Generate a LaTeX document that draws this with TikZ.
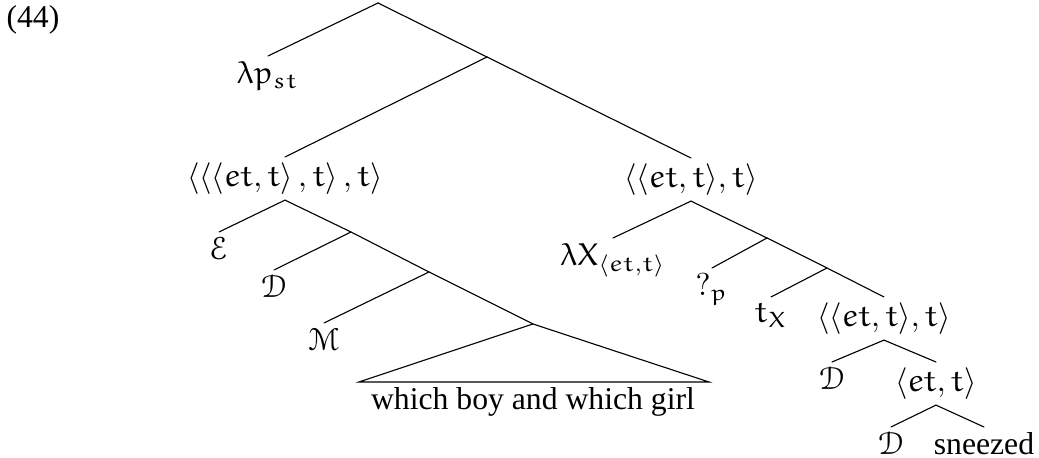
\documentclass[tikz,border=0pt]{standalone}
\usepackage{amsmath}
\usepackage{amsfonts}
\usepackage[mathcal]{euscript}
\usepackage{fontspec}
\setmainfont{Liberation Serif}
\DeclareSymbolFont{eulerletters}{U}{eur}{m}{n}
\DeclareMathSymbol{\elambda}{\mathord}{eulerletters}{"15}
\DeclareMathAlphabet{\mathe}{U}{eur}{m}{n}
\tikzset{
  lbl/.style={inner xsep=0pt, inner ysep=1.6pt, anchor=north},
  branch/.style={line width=0.35pt, line cap=round},
}
\begin{document}
\begin{tikzpicture}[x=0.3155pt, y=-0.3155pt]
\useasboundingbox (0,0) rectangle (1039,458);
% example number
\node[inner sep=0pt] (num) at (33,20) {(44)};
% root
\coordinate (r) at (378,3);
\node[lbl] (lp) at (268,56) {$\elambda\mathe{p}_{\mathe{st}}$};
\coordinate (n1) at (487,57);
\node[lbl] (A) at (285,157) {$\langle\langle\langle\mathe{et},\mathe{t}\rangle\,,\mathe{t}\rangle\,,\mathe{t}\rangle$};
\node[lbl] (B) at (691,158) {$\langle\langle\mathe{et},\mathe{t}\rangle,\mathe{t}\rangle$};
% left subtree
\node[lbl] (E1) at (219,232) {$\mathcal{E}$};
\coordinate (a1) at (351,232);
\node[lbl] (D1) at (274,270) {$\mathcal{D}$};
\coordinate (a2) at (429,272);
\node[lbl] (M1) at (324,323) {$\mathcal{M}$};
\coordinate (tri) at (533,324);
\coordinate (tl) at (359,382);
\coordinate (tr) at (709,382);
\node[inner sep=0pt, anchor=base] (wb) at (533,410) {which boy and which girl};
% right subtree
\node[lbl] (LX) at (613,238) {$\elambda\mathe{X}_{\langle\mathe{et},\mathe{t}\rangle}$};
\coordinate (b1) at (767,238);
\node[lbl] (Q) at (712,268) {$?_{\mathe{p}}$};
\coordinate (b2) at (827,268);
\node[lbl] (TX) at (771,297) {$\mathe{t}_{\mathe{X}}$};
\node[lbl] (C) at (884,297) {$\langle\langle\mathe{et},\mathe{t}\rangle,\mathe{t}\rangle$};
\node[lbl] (D2) at (832,362) {$\mathcal{D}$};
\node[lbl] (Et) at (936,362) {$\langle\mathe{et},\mathe{t}\rangle$};
\node[lbl] (D3) at (891,427) {$\mathcal{D}$};
\node[lbl] (sn) at (984,427) {sneezed};
% branches
\draw[branch] (r) -- (lp.north);
\draw[branch] (r) -- (n1);
\draw[branch] (n1) -- (A.north);
\draw[branch] (n1) -- (B.north);
\draw[branch] (A.south) -- (E1.north);
\draw[branch] (A.south) -- (a1);
\draw[branch] (a1) -- (D1.north);
\draw[branch] (a1) -- (a2);
\draw[branch] (a2) -- (M1.north);
\draw[branch] (a2) -- (tri);
\draw[branch] (tri) -- (tl) -- (tr) -- cycle;
\draw[branch] (B.south) -- (LX.north);
\draw[branch] (B.south) -- (b1);
\draw[branch] (b1) -- (Q.north);
\draw[branch] (b1) -- (b2);
\draw[branch] (b2) -- (TX.north);
\draw[branch] (b2) -- (C.north);
\draw[branch] (C.south) -- (D2.north);
\draw[branch] (C.south) -- (Et.north);
\draw[branch] (Et.south) -- (D3.north);
\draw[branch] (Et.south) -- (sn.north);
\end{tikzpicture}
\end{document}
